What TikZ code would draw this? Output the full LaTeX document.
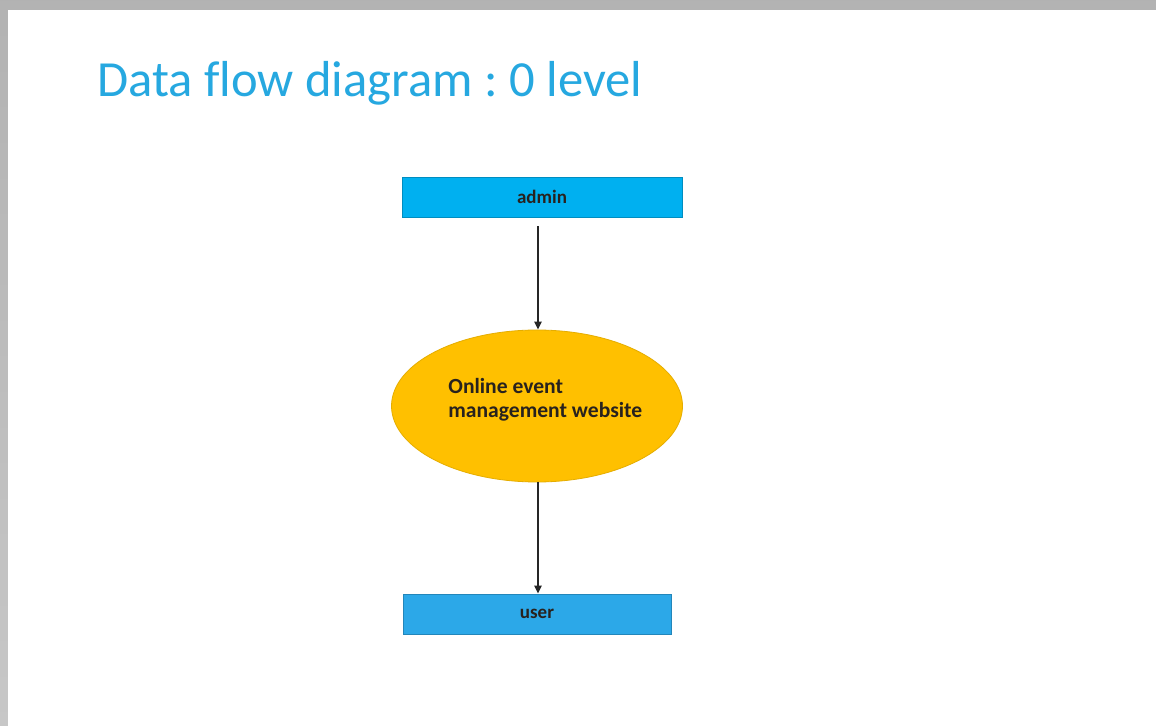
\documentclass[tikz,border=0pt]{standalone}
\usepackage{fontspec}
\setmainfont{Carlito}[Ligatures=CommonOff]
\usepackage{tikz}
\usetikzlibrary{arrows.meta,positioning,shapes.geometric}
\frenchspacing
\definecolor{titleblue}{RGB}{38,168,224}
\definecolor{adminblue}{RGB}{0,176,240}
\definecolor{userblue}{RGB}{44,168,232}
\definecolor{blobyellow}{RGB}{255,192,0}
\definecolor{inktext}{RGB}{40,34,30}
\tikzstyle{entitybox} = [draw=adminblue!80!black, line width=0.4pt, rectangle, minimum height=20pt, text=inktext, font=\fontsize{9.5}{11}\selectfont\bfseries]
\tikzstyle{processblob} = [ellipse, fill=blobyellow, draw=blobyellow!90!black, line width=0.4pt, minimum width=145.5pt, minimum height=76pt, inner sep=0pt]
\tikzstyle{slidetitle} = [anchor=base west, inner sep=0pt, text=titleblue, font=\fontsize{25.3}{28}\selectfont]
\tikzstyle{flow} = [draw=black!85, line width=0.8pt, -{Triangle[length=4pt,width=3.6pt]}]

\begin{document}
\begin{tikzpicture}[x=0.5pt, y=-0.5pt]
\useasboundingbox (0,0) rectangle (1156,726);
% slide with its shadow
\shade[top color=black!30, bottom color=black!22] (0,0) rectangle (1156,726);
\fill[white] (8,10) rectangle (1156,726);
\node[slidetitle] (title) at (97,97) {Data flow diagram : 0 level};

% level 0 diagram
\node[entitybox, fill=adminblue, minimum width=140pt] (admin) at (542,197) {admin};
\node[processblob] (site) at (537,406) {};
\node[anchor=north west, inner sep=0pt, align=left, text=inktext,
      font=\fontsize{10.8}{12}\selectfont\bfseries] (sitetext) at (448,378)
      {Online event\\management website};
\node[entitybox, fill=userblue, draw=userblue!80!black, minimum width=134pt] (user) at (537,614) {user};

\draw[flow, shorten <=4.5pt] (admin.south -| 538,0) -- (site.north -| 538,0);
\draw[flow] (site.south -| 538,0) -- (user.north -| 538,0);
\end{tikzpicture}
\end{document}
